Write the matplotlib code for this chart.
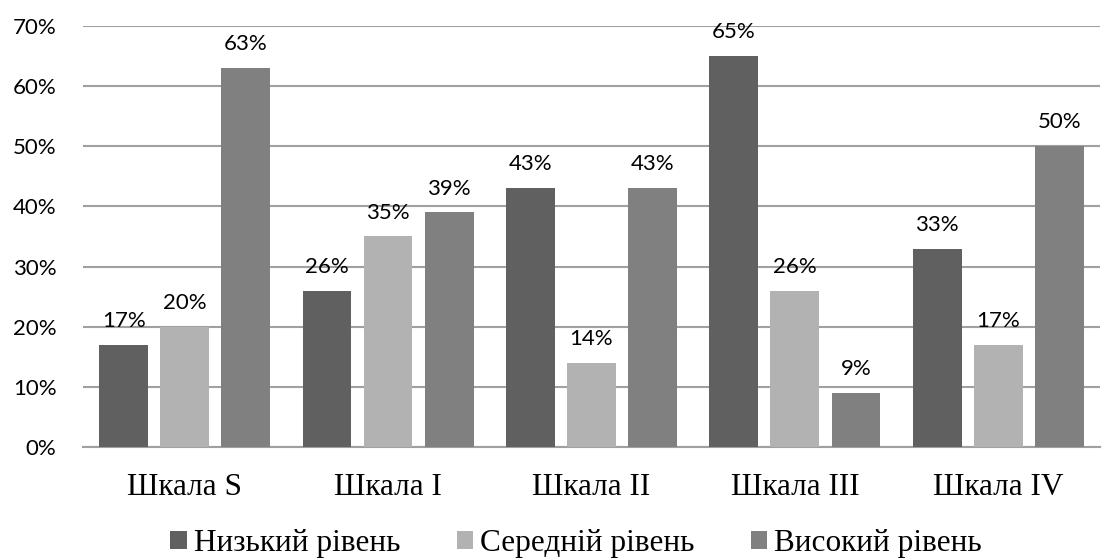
import numpy as np
import matplotlib.pyplot as plt

categories = ["Шкала S", "Шкала I", "Шкала II", "Шкала III", "Шкала IV"]
series_names = ["Низький рівень", "Середній рівень", "Високий рівень"]
low = [17, 26, 43, 65, 33]
mid = [20, 35, 14, 26, 17]
high = [63, 39, 43, 9, 50]

colors = ["#606060", "#b2b2b2", "#808080"]
sans = ["Lato", "DejaVu Sans"]
serif = ["Liberation Serif", "DejaVu Serif"]

fig = plt.figure(figsize=(11.06, 5.6), dpi=100)
ax = fig.add_axes([0.075, 0.2018, 0.9196, 0.7518])

x = np.arange(len(categories))
width = 0.24
step = 0.30
for i, (vals, name) in enumerate(zip([low, mid, high], series_names)):
    bars = ax.bar(x + (i - 1) * step, vals, width, color=colors[i], label=name, zorder=3)
    for b, v in zip(bars, vals):
        ax.annotate(f"{v}%", (b.get_x() + b.get_width() / 2, v), xytext=(0, 10),
                    textcoords="offset points", ha="center", va="bottom",
                    fontsize=16, family=sans, color="#000000")

ax.set_xlim(-0.5, len(categories) - 0.5)
ax.set_ylim(0, 70)
ax.set_yticks(range(0, 71, 10))
ax.set_yticklabels([f"{t}%" for t in range(0, 71, 10)], family=sans, fontsize=16)
ax.set_xticks(x)
ax.set_xticklabels(categories, family=serif, fontsize=22.5)
ax.tick_params(axis="y", length=0, pad=19)
ax.tick_params(axis="x", length=0, pad=19)

ax.grid(axis="y", color="#a0a0a0", linewidth=1.5, zorder=0)
for s in ["top", "right", "left"]:
    ax.spines[s].set_visible(False)
ax.spines["bottom"].set_color("#a0a0a0")
ax.spines["bottom"].set_linewidth(1.5)

leg = fig.legend(loc="center", bbox_to_anchor=(0.521, 0.029), ncol=3, frameon=False,
                 prop={"family": serif, "size": 22.5}, handlelength=0.53, handleheight=0.53,
                 handletextpad=0.22, columnspacing=1.8)

fig.savefig("out.png", dpi=100)
